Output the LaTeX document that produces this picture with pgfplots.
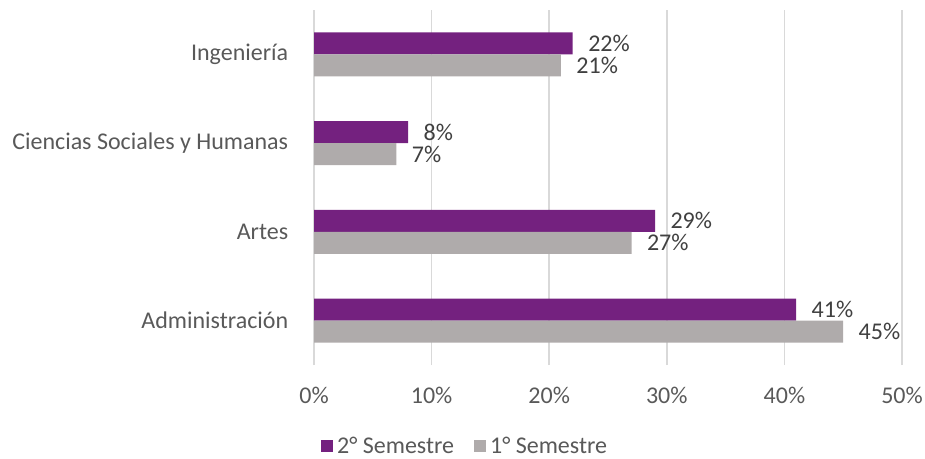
\documentclass[border=0pt]{standalone}
\usepackage{fontspec}
\setmainfont{Carlito}
\usepackage{pgfplots}
\pgfplotsset{compat=1.18}
\definecolor{purp}{HTML}{74217F}
\definecolor{gry}{HTML}{AFABAB}
\definecolor{txt}{HTML}{595959}
\definecolor{lbl}{HTML}{404040}
\definecolor{grd}{HTML}{D9D9D9}
\begin{document}
\begin{tikzpicture}[x=1pt,y=1pt]
\useasboundingbox (0,0) rectangle (925,458);
\begin{axis}[
  at={(314pt,93pt)}, anchor=south west,
  scale only axis, width=588pt, height=355pt,
  xbar, bar width=22pt,
  xmin=0, xmax=50, ymin=-0.5, ymax=3.5,
  xtick={0,10,20,30,40,50},
  xticklabels={0\%,10\%,20\%,30\%,40\%,50\%},
  ytick={0,1,2,3},
  yticklabels={Administración,Artes,Ciencias Sociales y Humanas,Ingeniería},
  xmajorgrids, major grid style={grd, line width=1.5pt},
  axis line style={draw=none},
  tick style={draw=none},
  /pgf/number format/assume math mode=true,
  font=\fontsize{24}{28}\selectfont,
  ticklabel style={text=txt},
  xticklabel style={yshift=-19pt},
  yticklabel style={xshift=-18pt},
  nodes near coords={\pgfmathprintnumber{\pgfplotspointmeta}\%},
  nodes near coords style={text=lbl, anchor=west, xshift=12pt},
  legend columns=2,
  legend style={draw=none, at={(0.257,-0.229)}, anchor=center, font=\fontsize{24}{28}\selectfont, text=txt,
    inner sep=0pt, row sep=0pt,
    /tikz/every odd column/.append style={column sep=2pt},
    /tikz/every even column/.append style={column sep=18pt}},
  legend image code/.code={\fill[#1] (0pt,-6pt) rectangle (12pt,6pt);},
]
\addplot[fill=purp, draw=none, bar shift=11pt] coordinates {(41,0) (29,1) (8,2) (22,3)};
\addplot[fill=gry, draw=none, bar shift=-11pt] coordinates {(45,0) (27,1) (7,2) (21,3)};
\legend{2° Semestre, 1° Semestre}
\end{axis}
\end{tikzpicture}
\end{document}
